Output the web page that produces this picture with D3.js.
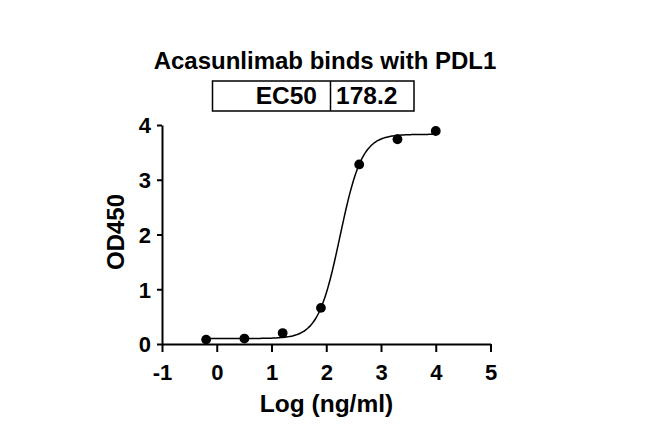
<!DOCTYPE html>
<html>
<head>
<meta charset="utf-8">
<script src="https://cdn.jsdelivr.net/npm/d3@7"></script>
<style>
  html, body { margin: 0; padding: 0; background: #fff; }
  svg text { font-family: "Liberation Sans", Arial, Helvetica, sans-serif; font-weight: bold; fill: #000; }
</style>
</head>
<body>
<svg id="chart" width="650" height="437"></svg>
<script>
// ---- data ----
const logConc = [-0.194, 0.505, 1.204, 1.903, 2.602, 3.301, 4.0];
const od450   = [0.08, 0.10, 0.20, 0.66, 3.28, 3.74, 3.89];
const xTicks  = [-1, 0, 1, 2, 3, 4, 5];
const yTicks  = [0, 1, 2, 3, 4];
const ec50Label = "EC50";
const ec50Value = 178.2;
// four-parameter logistic fit (bottom, top, hill slope); logEC50 from EC50
const fitBottom = 0.10;
const fitTop = 3.83;
const fitHill = 2.17;
const titleText = "Acasunlimab binds with PDL1";
const xTitle = "Log (ng/ml)";
const yTitle = "OD450";

const svg = d3.select("#chart");
const x = d3.scaleLinear().domain([-1, 5]).range([162, 490.5]);
const y = d3.scaleLinear().domain([0, 4]).range([344, 125]);
const fmt = d => String(d);

// axes
const xAxis = svg.append("g").attr("transform", "translate(0,344)")
  .call(d3.axisBottom(x).tickValues(xTicks).tickSize(8).tickSizeOuter(0).tickPadding(12).tickFormat(fmt));
const yAxis = svg.append("g").attr("transform", "translate(162,0)")
  .call(d3.axisLeft(y).tickValues(yTicks).tickSize(5).tickSizeOuter(0).tickPadding(6).tickFormat(fmt));
[xAxis, yAxis].forEach(g => {
  g.selectAll("path.domain").attr("stroke", "#000").attr("stroke-width", 2);
  g.selectAll(".tick line").attr("stroke", "#000").attr("stroke-width", 2);
  g.selectAll(".tick text").attr("font-size", 22).attr("font-family", null).attr("fill", "#000");
});
yAxis.selectAll(".tick text").attr("dy", "0.36em");

// fitted curve
const logEC50 = Math.log10(ec50Value);
const model = lx => fitBottom + (fitTop - fitBottom) / (1 + Math.pow(10, (logEC50 - lx) * fitHill));
const x0 = d3.min(logConc), x1 = d3.max(logConc);
const curve = d3.range(0, 201).map(i => x0 + (x1 - x0) * i / 200).map(lx => [lx, model(lx)]);
svg.append("path")
  .datum(curve)
  .attr("fill", "none").attr("stroke", "#000").attr("stroke-width", 1.5)
  .attr("d", d3.line().x(d => x(d[0])).y(d => y(d[1])).curve(d3.curveBasis));

// points
svg.append("g").selectAll("circle")
  .data(logConc.map((v, i) => [v, od450[i]]))
  .join("circle")
  .attr("cx", d => x(d[0])).attr("cy", d => y(d[1])).attr("r", 4.9).attr("fill", "#000");

// title
svg.append("text").attr("x", 325).attr("y", 69).attr("text-anchor", "middle")
  .attr("font-size", 24).text(titleText);

// EC50 table
const tbl = svg.append("g");
tbl.append("rect").attr("x", 212.5).attr("y", 81).attr("width", 201.5).attr("height", 30)
  .attr("fill", "none").attr("stroke", "#000").attr("stroke-width", 1.5);
tbl.append("line").attr("x1", 330.5).attr("x2", 330.5).attr("y1", 81).attr("y2", 111)
  .attr("stroke", "#000").attr("stroke-width", 1.5);
tbl.append("text").attr("x", 317).attr("y", 104).attr("text-anchor", "end").attr("font-size", 24.5).text(ec50Label);
tbl.append("text").attr("x", 336).attr("y", 104).attr("text-anchor", "start").attr("font-size", 24.5).text(ec50Value.toFixed(1));

// axis titles
svg.append("text").attr("x", 326.5).attr("y", 412).attr("text-anchor", "middle")
  .attr("font-size", 24.5).text(xTitle);
svg.append("text").attr("transform", "translate(124,232) rotate(-90)").attr("text-anchor", "middle")
  .attr("font-size", 24).text(yTitle);
</script>
</body>
</html>
